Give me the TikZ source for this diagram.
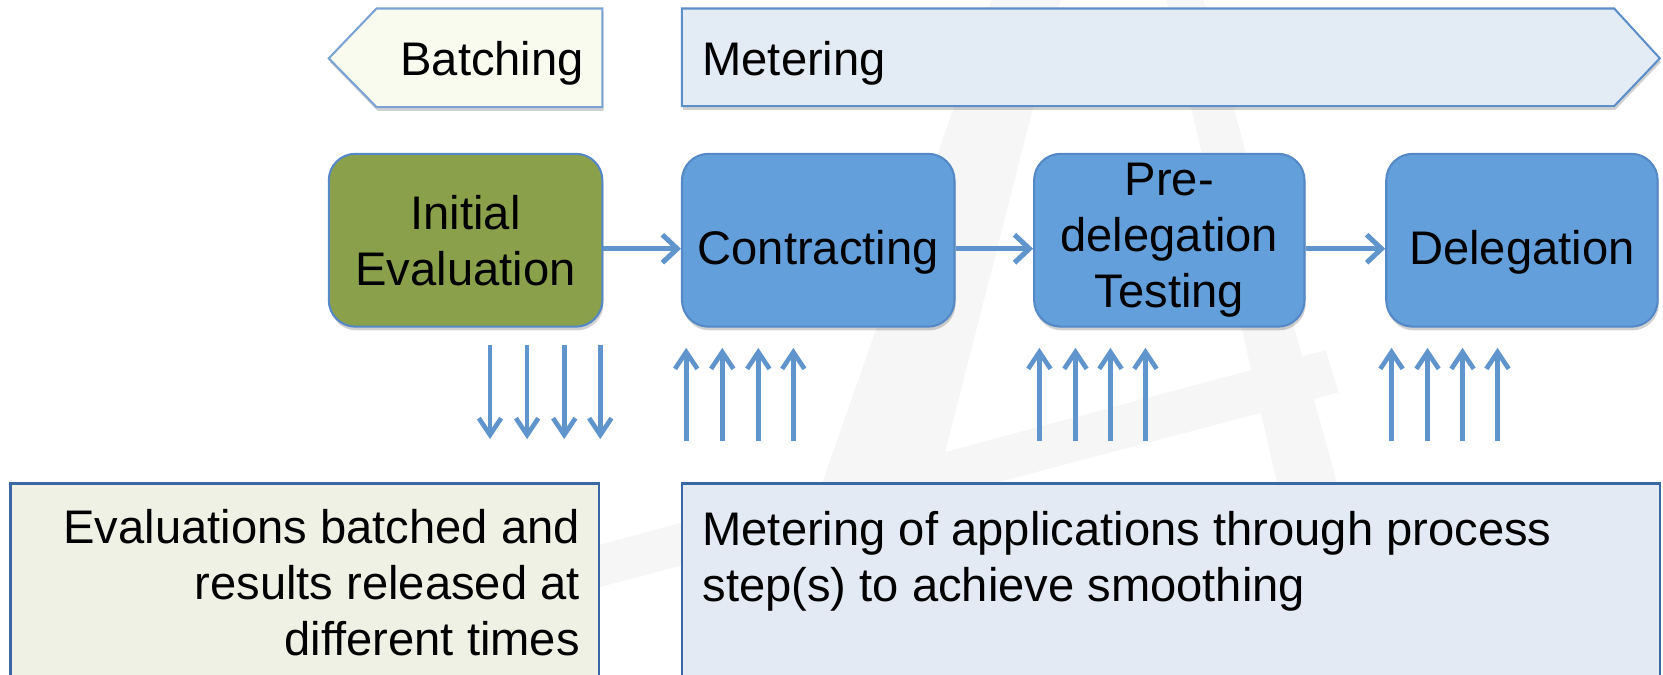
\documentclass[tikz,border=0pt]{standalone}
\usepackage{fontspec}
\setmainfont{Liberation Sans}
\usetikzlibrary{arrows.meta,shadows}
\definecolor{olive}{RGB}{138,160,75}
\definecolor{procblue}{RGB}{99,159,218}
\definecolor{procborder}{RGB}{84,136,198}
\definecolor{arrowblue}{RGB}{96,148,204}
\definecolor{batchfill}{RGB}{248,251,238}
\definecolor{batchborder}{RGB}{122,162,212}
\definecolor{meterfill}{RGB}{227,235,245}
\definecolor{meterborder}{RGB}{92,142,202}
\definecolor{evalfill}{RGB}{238,241,228}
\definecolor{notefill}{RGB}{227,234,244}
\definecolor{noteborder}{RGB}{58,104,164}
\definecolor{wmark}{RGB}{246,246,246}
\newcommand{\lowtext}[1]{\raisebox{-0.22cm}[\height][\depth]{#1}}
\begin{document}
\begin{tikzpicture}[x=0.02cm,y=-0.02cm,
  font=\fontsize{25.3}{30}\selectfont,
  shad/.style={drop shadow={shadow xshift=0.6pt,shadow yshift=-2pt,opacity=0.18,fill=black}},
  proc/.style={draw=procborder,line width=1.1pt,fill=procblue,rounded corners=0.5cm,
    minimum height=3.26cm,align=center,inner sep=0pt,shad},
  harrow/.style={draw=arrowblue,line width=2.7pt,
    -{Straight Barb[length=8pt,width=15pt]}},
  varrow/.style={draw=arrowblue,line width=2.5pt,
    -{Straight Barb[length=9pt,width=12pt]}},
  label/.style={inner sep=0pt,text=black},
  notebox/.style={line width=1.3pt,draw=noteborder}]
\useasboundingbox (0,0) rectangle (1568,636.4);
\begin{scope}
\clip (0,0) rectangle (1568,636.4);
% watermark
\fill[wmark] (935,0) -- (1000,0) -- (880,470) -- (770,470) -- cycle;
\fill[wmark] (1100,0) -- (1135,0) -- (1262,460) -- (1205,460) -- cycle;
\fill[wmark] (560,515) -- (1250,330) -- (1262,370) -- (560,555) -- cycle;
% top banners
\draw[fill=batchfill,draw=batchborder,line width=1.1pt,shad]
  (310,55) -- (355,8) -- (568,8) -- (568,101) -- (355,101) -- cycle;
\node[label] (bat) at (464,60) {Batching};
\draw[fill=meterfill,draw=meterborder,line width=1.1pt,shad]
  (643,8) -- (1522,8) -- (1565,55) -- (1522,100) -- (643,100) -- cycle;
\node[label,anchor=west] (met) at (662,60) {Metering};
% process boxes
\node[proc,fill=olive,minimum width=5.16cm] (ie) at (439,226.5) {Initial\\Evaluation};
\node[proc,minimum width=5.14cm] (con) at (771.5,226.5) {\lowtext{Contracting}};
\node[proc,minimum width=5.10cm] (pdt) at (1102.5,226.5) {Pre-\\delegation\\Testing};
\node[proc,minimum width=5.12cm] (del) at (1435,226.5) {\lowtext{Delegation}};
\draw[harrow] ([yshift=-0.16cm]ie.east) -- ([yshift=-0.16cm]con.west);
\draw[harrow] ([yshift=-0.16cm]con.east) -- ([yshift=-0.16cm]pdt.west);
\draw[harrow] ([yshift=-0.16cm]pdt.east) -- ([yshift=-0.16cm]del.west);
% vertical arrows
\foreach \x [count=\i] in {462,497,532,566} {
  \coordinate (ds\i) at (\x,325);
  \coordinate (de\i) at (\x,414);
  \draw[varrow] (ds\i) -- (de\i);
}
\foreach \x [count=\i] in {647,681,715,748,980,1014,1047,1080,1312,1346,1379,1412} {
  \coordinate (us\i) at (\x,416);
  \coordinate (ue\i) at (\x,328);
  \draw[varrow] (us\i) -- (ue\i);
}
% bottom notes
\draw[notebox,fill=evalfill] (10,456) rectangle (565,660);
\node[label,anchor=east,align=right] (evnote) at (547,549)
  {Evaluations batched and\\results released at\\different times};
\draw[notebox,fill=notefill] (643,456) rectangle (1565,660);
\node[label,anchor=west,align=left] (mnote) at (662,529)
  {Metering of applications through process\\step(s) to achieve smoothing};
\end{scope}
\end{tikzpicture}
\end{document}
